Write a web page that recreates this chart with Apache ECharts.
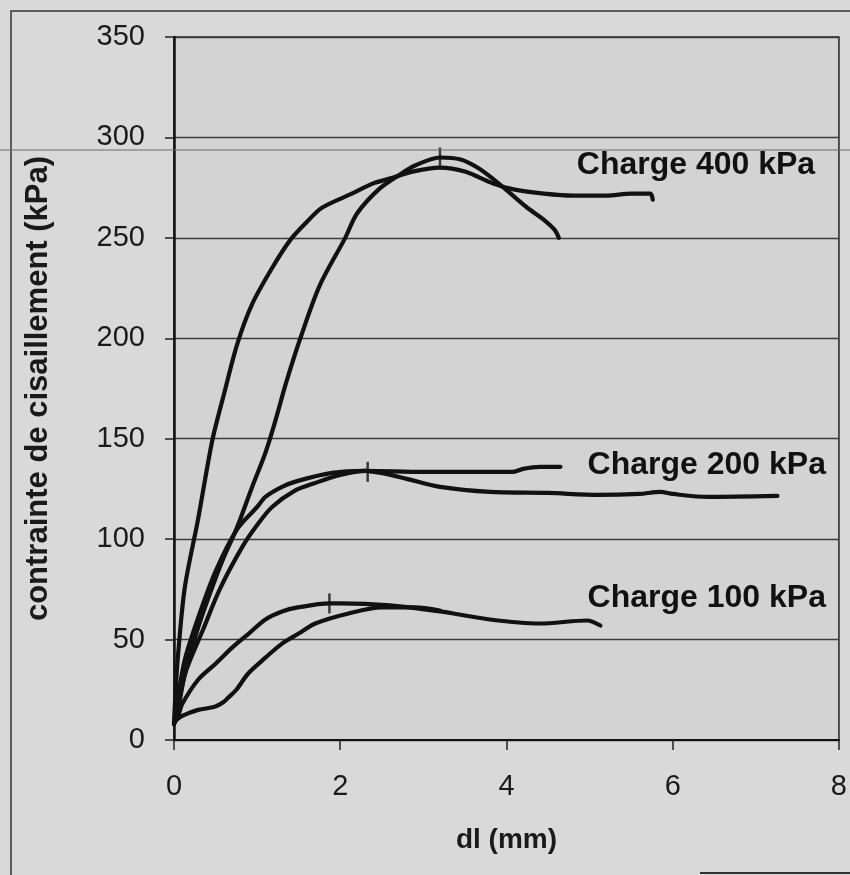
<!DOCTYPE html>
<html>
<head>
<meta charset="utf-8">
<script src="https://cdn.jsdelivr.net/npm/echarts@6/dist/echarts.min.js"></script>
<style>
html,body{margin:0;padding:0;background:#d9d9d9;}
#chart{width:850px;height:875px;}
</style>
</head>
<body>
<div id="chart"></div>
<script>
// ---- data (dl in mm, shear stress in kPa) ----
const xTicks = [0, 2, 4, 6, 8];
const yTicks = [0, 50, 100, 150, 200, 250, 300, 350];

const c400a = [[0,8],[0.02,25],[0.05,43],[0.13,76],[0.29,110],[0.46,149],[0.6,172],[0.76,197],[0.94,217],[1.18,235],[1.4,249],[1.6,258],[1.78,265],[2.14,272],[2.39,277],[2.64,280],[2.87,283],[3.2,285],[3.5,283],[3.84,277],[4.1,274],[4.45,272],[4.8,271],[5.2,271],[5.5,272],[5.73,272],[5.76,269]];
const c400b = [[0,8],[0.04,13],[0.13,33],[0.29,56],[0.46,76],[0.59,90],[0.76,106],[0.94,126],[1.1,143],[1.22,159],[1.35,178],[1.52,200],[1.75,226],[2.06,250],[2.2,262],[2.46,274],[2.7,281],[2.9,286],[3.2,290],[3.45,289],[3.65,285],[3.85,279],[4.05,272],[4.25,265],[4.45,259],[4.58,254],[4.63,250]];
const c200a = [[0,8],[0.05,22],[0.13,40],[0.3,62],[0.5,84],[0.76,105],[1.0,116],[1.1,121],[1.3,126],[1.49,129],[1.9,133],[2.3,134],[3.0,133.5],[3.6,133.5],[4.08,133.5],[4.2,135],[4.4,136],[4.65,136]];
const c200b = [[0,8],[0.05,18],[0.15,35],[0.35,55],[0.55,75],[0.82,96],[1.0,107],[1.18,116],[1.45,124],[1.7,128],[2.0,132],[2.3,134],[2.55,132.5],[2.8,130],[3.2,126],[3.8,123.5],[4.5,123],[5.1,122],[5.6,122.5],[5.85,123.5],[6.0,122.5],[6.42,121],[7.26,121.5]];
const c100a = [[0,8],[0.05,12],[0.1,18],[0.29,30],[0.5,38],[0.7,46],[0.9,53],[1.1,60],[1.3,64],[1.49,66],[1.87,68],[2.0,68],[2.6,67],[3.2,64],[3.8,60],[4.4,58],[4.97,59.5],[5.13,57]];
const c100b = [[0,9],[0.1,12],[0.29,15],[0.49,16.5],[0.6,19],[0.65,21],[0.75,25],[0.89,33],[1.1,41],[1.3,48],[1.5,53],[1.7,58],[2.1,63],[2.5,66],[2.9,66],[3.2,64.5]];
const peakMarks = [[3.2,290],[2.33,133.5],[1.87,68]];
const annotationText = ['Charge 400 kPa','Charge 200 kPa','Charge 100 kPa'];
const annotationAt = [[6.28,286],[6.41,137],[6.41,70.5]];

const FONT = '"Liberation Sans", Arial, Helvetica, sans-serif';
const chart = echarts.init(document.getElementById('chart'));

function curve(d){
  return {type:'line', data:d, smooth:0.3, symbol:'none',
    lineStyle:{color:'#111', width:4.2, cap:'round', join:'round'}, z:3};
}

const frame = [
  {type:'polyline', shape:{points:[[11,875],[11,11],[850,11]]}, style:{stroke:'#333', lineWidth:1.5, fill:null}, z:0},
  {type:'line', shape:{x1:700,y1:873,x2:850,y2:873}, style:{stroke:'#333', lineWidth:2}, z:0},
  {type:'line', shape:{x1:0,y1:150,x2:850,y2:150}, style:{stroke:'#6a6a6a', lineWidth:1}, z:10}
];

chart.setOption({
  backgroundColor:'#d9d9d9',
  animation:false,
  grid:{left:174, right:10, top:37, bottom:135, show:true,
    backgroundColor:'#d3d3d3', borderColor:'#222', borderWidth:1.5},
  xAxis:{type:'value', min:xTicks[0], max:xTicks[xTicks.length-1], interval:2,
    name:'dl (mm)', nameLocation:'middle', nameGap:86,
    nameTextStyle:{fontFamily:FONT, fontSize:28, fontWeight:'bold', color:'#1a1a1a'},
    axisLine:{show:true, onZero:false, lineStyle:{color:'#111', width:2}},
    axisTick:{show:true, length:10, lineStyle:{color:'#222', width:1.5}},
    axisLabel:{fontFamily:FONT, fontSize:29, color:'#1a1a1a', margin:32},
    splitLine:{show:false}},
  yAxis:{type:'value', min:yTicks[0], max:yTicks[yTicks.length-1], interval:50,
    name:'contrainte de cisaillement (kPa)', nameLocation:'middle', nameGap:120,
    nameTextStyle:{fontFamily:FONT, fontSize:31, fontWeight:'bold', color:'#1a1a1a'},
    axisLine:{show:true, lineStyle:{color:'#111', width:2.5}},
    axisTick:{show:true, length:9, lineStyle:{color:'#222', width:1.5}},
    axisLabel:{fontFamily:FONT, fontSize:29, color:'#1a1a1a', margin:29},
    splitLine:{show:true, lineStyle:{color:'#3c3c3c', width:1.3}}},
  graphic:frame,
  series:[
    curve(c400a), curve(c400b), curve(c200a), curve(c200b), curve(c100a), curve(c100b),
    {type:'scatter', data:peakMarks, symbol:'rect', symbolSize:[2.5,20],
      itemStyle:{color:'#111'}, z:4}
  ]
});

// annotation texts placed at data coordinates through the chart's own scales
const texts = annotationAt.map((p,i)=>{
  const px = chart.convertToPixel({gridIndex:0}, p);
  return {type:'text', x:px[0], y:px[1], z:20,
    style:{text:annotationText[i], fontFamily:FONT, fontSize:32, fontWeight:'bold',
      fill:'#111', align:'center', verticalAlign:'middle'}};
});
chart.setOption({graphic: frame.concat(texts)});
</script>
</body>
</html>
